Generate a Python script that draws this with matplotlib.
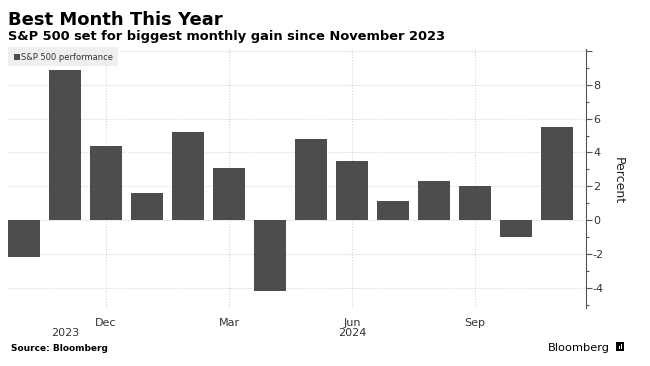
import numpy as np
import matplotlib.pyplot as plt
from matplotlib.patches import Rectangle

# monthly S&P 500 performance, Oct 2023 .. Nov 2024 (percent)
months = ["Oct", "Nov", "Dec", "Jan", "Feb", "Mar", "Apr",
          "May", "Jun", "Jul", "Aug", "Sep", "Oct", "Nov"]
month_year = [2023, 2023, 2023] + [2024] * 11
perf = [-2.2, 8.9, 4.4, 1.6, 5.2, 3.1, -4.2, 4.8, 3.5, 1.1, 2.3, 2.0, -1.0, 5.5]
tick_months = ["Dec", "Mar", "Jun", "Sep"]
years = [2023, 2024]

W, H = 650, 366
BAR = "#4d4d4d"
GRID = "#d4d4d4"
AX = "#555555"

fig = plt.figure(figsize=(W / 100, H / 100), dpi=100)
fig.patch.set_facecolor("white")

ax = fig.add_axes([8 / W, (H - 308) / H, 578 / W, (308 - 49) / H])
x = np.arange(len(perf))
ax.bar(x, perf, width=0.78, color=BAR, zorder=2)

ax.set_xlim(-0.39, 13.71)
ax.set_ylim(-5.2, 10.12)

# y axis on the right
ax.yaxis.tick_right()
ax.set_yticks(np.arange(-4, 11, 2))
ax.set_yticklabels([str(v) if v < 10 else "" for v in range(-4, 11, 2)])
ax.set_yticks(np.arange(-5, 10, 2), minor=True)
ax.tick_params(axis="y", which="major", length=4, width=0.8, color=AX,
               labelsize=8, labelcolor="#333333", pad=1)
ax.tick_params(axis="y", which="minor", length=2, width=0.8, color=AX)

# x ticks at quarter months
xt = [i for i, m in enumerate(months) if m in tick_months]
ax.set_xticks(xt)
ax.set_xticklabels([months[i] for i in xt])
ax.tick_params(axis="x", length=0, labelsize=8, labelcolor="#333333", pad=7)

for yr in years:
    idx = [i for i, y in enumerate(month_year) if y == yr]
    ax.text(np.mean(idx), -0.097, str(yr), transform=ax.get_xaxis_transform(),
            ha="center", va="center", fontsize=8, color="#333333")

for s in ["top", "left", "bottom"]:
    ax.spines[s].set_visible(False)
ax.spines["right"].set_color(AX)
ax.spines["right"].set_linewidth(0.8)

ax.grid(True, which="major", linestyle=(0, (1, 1.5)), color=GRID, linewidth=0.8)
ax.set_axisbelow(True)

# legend box
fig.add_artist(Rectangle((8 / W, 1 - 66 / H), 110 / W, 19 / H,
                         transform=fig.transFigure, facecolor="#efefef",
                         edgecolor="none", zorder=5))
fig.add_artist(Rectangle((14 / W, 1 - 60 / H), 6 / W, 6 / H,
                         transform=fig.transFigure, facecolor=BAR,
                         edgecolor="none", zorder=6))
fig.text(21 / W, 1 - 57 / H, "S&P 500 performance", fontsize=6,
         color="#333333", va="center", ha="left", zorder=6)

fig.text(618 / W, 1 - 181 / H, "Percent", rotation=270, fontsize=9,
         color="#222222", ha="center", va="center")

# titles
fig.text(8 / W, 1 - 25 / H, "Best Month This Year", fontsize=13,
         fontweight="bold", ha="left", va="baseline")
fig.text(8 / W, 1 - 40 / H, "S&P 500 set for biggest monthly gain since November 2023",
         fontsize=9.4, fontweight="bold", ha="left", va="baseline")
fig.text(11 / W, 1 - 351 / H, "Source: Bloomberg", fontsize=6.5,
         fontweight="bold", ha="left", va="baseline")
fig.text(548 / W, 1 - 351 / H, "Bloomberg", fontsize=8.2,
         fontweight="medium", ha="left", va="baseline")

# small logo mark
fig.add_artist(Rectangle((616 / W, 1 - 351 / H), 8 / W, 9 / H,
                         transform=fig.transFigure, facecolor="black",
                         edgecolor="none"))
for bx, bh in [(618.5, 3), (620.5, 5)]:
    fig.add_artist(Rectangle((bx / W, 1 - 349 / H), 1 / W, bh / H,
                             transform=fig.transFigure, facecolor="white",
                             edgecolor="none"))

fig.savefig("out.png", dpi=100)
